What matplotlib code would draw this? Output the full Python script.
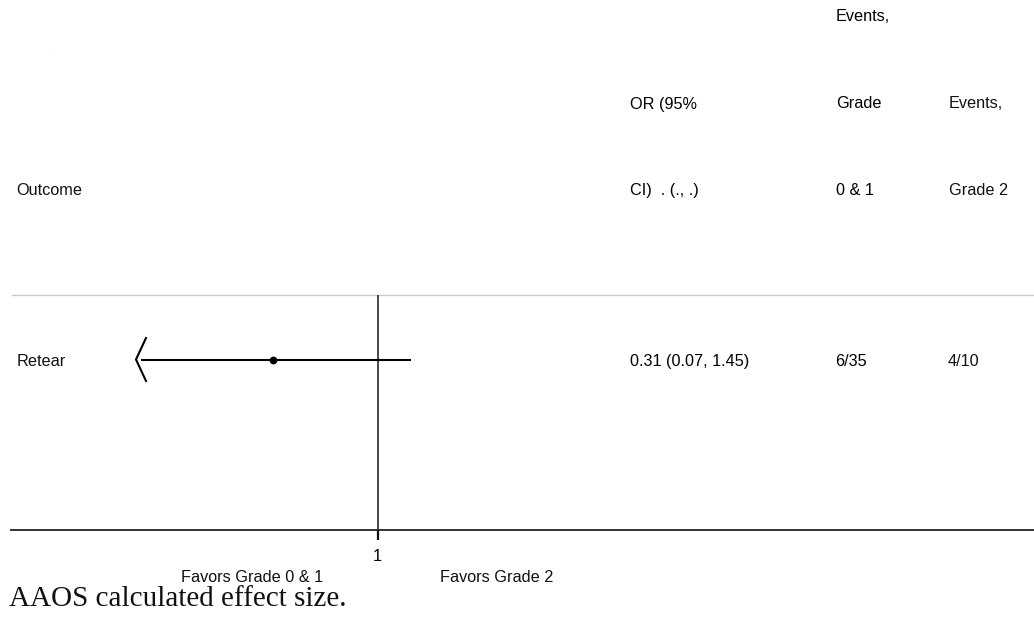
import numpy as np
import matplotlib
matplotlib.use("Agg")
import matplotlib.pyplot as plt

# ---------------- data ----------------
outcomes = ["Retear"]
odds_ratio = [0.31]
ci_lower = [0.07]
ci_upper = [1.45]
or_labels = ["0.31 (0.07, 1.45)"]
events_grade01 = ["6/35"]
events_grade2 = ["4/10"]

hdr_outcome = ["Outcome"]
hdr_or = ["OR (95%", "CI)  . (., .)"]
hdr_ev01 = ["Events,", "Grade", "0 & 1"]
hdr_ev2 = ["Events,", "Grade 2"]
favors_left = "Favors Grade 0 & 1"
favors_right = "Favors Grade 2"
ref_tick_labels = ["1"]
ref_ticks = [1]
footer = "AAOS calculated effect size."

# ---------------- figure ----------------
W, H = 1034, 617
fig = plt.figure(figsize=(W / 100, H / 100), dpi=100)
fig.patch.set_facecolor("white")

SANS = "Liberation Sans"
FS = 11.7

# overlay axes in pixel coordinates (for table text and rules)
ov = fig.add_axes([0, 0, 1, 1])
ov.set_xlim(0, W)
ov.set_ylim(H, 0)
ov.axis("off")

# forest axes (log scale)
px_per_dec = 205.0
x_one = 377.7
x_left, x_right = 136.0, 620.0
y_top, y_bot = 294.5, 530.0
fx = fig.add_axes([x_left / W, 1 - y_bot / H, (x_right - x_left) / W, (y_bot - y_top) / H])
fx.set_xscale("log")
xmin = 10 ** ((x_left - x_one) / px_per_dec)
xmax = 10 ** ((x_right - x_one) / px_per_dec)
fx.set_xlim(xmin, xmax)
row_px = 359.5
# y in units of 100 px, row 0 at row_px
fx.set_ylim(-(y_bot - row_px) / 100.0, (row_px - y_top) / 100.0)
fx.patch.set_alpha(0)
for s in fx.spines.values():
    s.set_visible(False)
fx.set_yticks([])
fx.set_xticks(ref_ticks)
fx.set_xticklabels(ref_tick_labels, fontfamily=SANS, fontsize=FS)
fx.xaxis.set_minor_locator(matplotlib.ticker.NullLocator())
fx.tick_params(axis="x", direction="out", length=7.2, width=1.6, color="#111111", pad=6.2)

# reference line at 1
fx.axvline(1, color="#3a3a3a", lw=1.3, zorder=1)

# CI lines, points, arrows
for i, (orv, lo, hi) in enumerate(zip(odds_ratio, ci_lower, ci_upper)):
    y = -i
    left = max(lo, xmin)
    fx.plot([left, hi], [y, y], color="black", lw=1.5, solid_capstyle="butt", zorder=3)
    fx.plot([orv], [y], marker="o", ms=4.6, color="black", zorder=4)
    # arrow indicating the interval runs past the axis
    arm_x = xmin * 10 ** (10.0 / px_per_dec)
    fx.plot([arm_x, xmin, arm_x], [y + 0.215, y, y - 0.215], color="black", lw=1.5,
            solid_joinstyle="miter", clip_on=False, zorder=3)

# rules
ov.plot([12, W], [294.5, 294.5], color="#c8c8c8", lw=1.0)
ov.plot([11, W], [530, 530], color="#333333", lw=1.4)

# tiny mark
ov.text(52, 49, ".", fontsize=3, color="#888888", ha="center", va="baseline")

# header
hdr_base = [21, 108.5, 195]
ov.text(16.7, 195, hdr_outcome[0], fontfamily=SANS, fontsize=FS, color="#111111", va="baseline")
for j, t in enumerate(hdr_or):
    ov.text(630, hdr_base[j + 1], t, fontfamily=SANS, fontsize=FS, color="black", va="baseline")
for j, t in enumerate(hdr_ev01):
    ov.text(836, hdr_base[j], t, fontfamily=SANS, fontsize=FS, color="black", va="baseline")
for j, t in enumerate(hdr_ev2):
    ov.text(949, hdr_base[j + 1], t, fontfamily=SANS, fontsize=FS, color="#111111", va="baseline")

# rows
for i, name in enumerate(outcomes):
    yb = 366 + i * 100
    ov.text(16.7, yb, name, fontfamily=SANS, fontsize=FS, color="#111111", va="baseline")
    ov.text(630, yb, or_labels[i], fontfamily=SANS, fontsize=FS, color="black", va="baseline")
    ov.text(835, yb, events_grade01[i], fontfamily=SANS, fontsize=FS, color="black", va="baseline")
    ov.text(948, yb, events_grade2[i], fontfamily=SANS, fontsize=FS, color="#111111", va="baseline")

# favors labels
ov.text(251.8, 581.5, favors_left, fontfamily=SANS, fontsize=FS, color="#111111",
        ha="center", va="baseline")
ov.text(496.3, 581.5, favors_right, fontfamily=SANS, fontsize=FS, color="#111111",
        ha="center", va="baseline")

# footer
ov.text(9.3, 606, footer, fontfamily="Liberation Serif", fontsize=21, color="#111111",
        va="baseline")

fig.savefig("out.png", dpi=100, facecolor="white")
